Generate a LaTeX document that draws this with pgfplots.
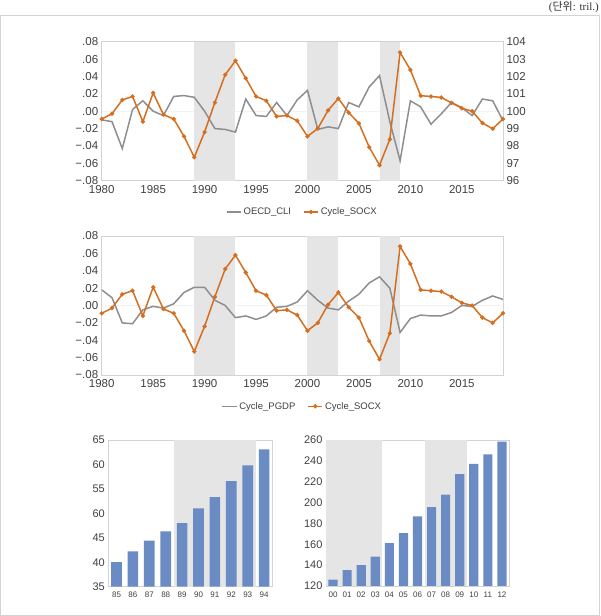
\documentclass[border=0pt]{standalone}
\usepackage{pgfplots}
\pgfplotsset{compat=1.18}
\usepackage{fontspec}
\setmainfont{Liberation Sans}
\newfontfamily\krfont{Noto Sans CJK KR}
\newfontfamily\seriffont{Liberation Serif}

\definecolor{socx}{HTML}{D46F22}
\definecolor{gline}{HTML}{8E8E8E}
\definecolor{band}{HTML}{E5E5E5}
\definecolor{barblue}{HTML}{6A8BC3}
\definecolor{frame}{HTML}{D3D3D3}
\definecolor{tickc}{HTML}{404040}

\pgfplotsset{
  base/.style={scale only axis, anchor=south west,
    axis line style={frame, line width=0.8pt},
    tick style={draw=none},
    ticklabel style={text=tickc},
    scaled y ticks=false,
    /pgf/number format/assume math mode=true,
    /pgf/number format/1000 sep={}},
  cyc/.style={base, xmin=1980, xmax=2019, ymin=-0.08, ymax=0.08,
    width=401.3pt, height=139pt,
    xtick={1980,1985,1990,1995,2000,2005,2010,2015},
    ytick={-0.08,-0.06,-0.04,-0.02,0,0.02,0.04,0.06,0.08},
    yticklabels={−.08,−.06,−.04,−.02,.00,.02,.04,.06,.08},
    ticklabel style={font=\fontsize{11.5}{13}\selectfont},
    xticklabel style={yshift=-1pt},
    extra y ticks={0}, extra y tick labels={},
    extra tick style={grid=major, major grid style={black!5, line width=0.6pt}},
    legend style={at={(0.5,-0.165)}, anchor=north, legend columns=2, draw=none,
      font=\fontsize{9.5}{11}\selectfont, text=tickc,
      /tikz/every even column/.append style={column sep=10pt}},
    legend image code/.code={
      \draw[#1, line width=1.5pt] (0cm,0cm) -- (0.5cm,0cm);
      \draw[#1, line width=1.5pt, mark repeat=2, mark phase=2] plot coordinates {(0cm,0cm)(0.25cm,0cm)(0.5cm,0cm)};}},
  orange/.style={socx, line width=1.5pt, mark=*, mark size=1.3pt},
  grayl/.style={gline, line width=1.5pt},
  shade/.style={fill=band, draw=none, forget plot},
  bars/.style={base, ticklabel style={font=\fontsize{11}{13}\selectfont},
    xticklabel style={font=\fontsize{8}{9}\selectfont, yshift=-2pt}},
}

\begin{document}
\begin{tikzpicture}
\path[use as bounding box] (0,0) rectangle (600pt,616pt);
\draw[frame, line width=1pt] (0.5pt,0.5pt) rectangle (599.5pt,600pt);
\node[anchor=base east, inner sep=0pt, text=black!80, font=\fontsize{11}{13}\selectfont]
  at (599pt,605pt) {\seriffont(\krfont 단위\seriffont: tril.)};

% ---- top chart
\begin{axis}[cyc, at={(101.7pt,435.3pt)}]
\addplot[shade] coordinates {(1989,-0.08)(1989,0.08)(1993,0.08)(1993,-0.08)} -- cycle;
\addplot[shade] coordinates {(2000,-0.08)(2000,0.08)(2003,0.08)(2003,-0.08)} -- cycle;
\addplot[shade] coordinates {(2007,-0.08)(2007,0.08)(2009,0.08)(2009,-0.08)} -- cycle;
\addplot[grayl] coordinates {
(1980,-0.010)(1981,-0.012)(1982,-0.043)(1983,0.002)(1984,0.012)(1985,0.000)
(1986,-0.005)(1987,0.017)(1988,0.018)(1989,0.016)(1990,0.000)(1991,-0.020)
(1992,-0.021)(1993,-0.024)(1994,0.014)(1995,-0.005)(1996,-0.006)(1997,0.010)
(1998,-0.005)(1999,0.013)(2000,0.024)(2001,-0.021)(2002,-0.018)(2003,-0.020)
(2004,0.010)(2005,0.005)(2006,0.028)(2007,0.041)(2008,-0.012)(2009,-0.057)
(2010,0.012)(2011,0.005)(2012,-0.015)(2013,-0.003)(2014,0.010)(2015,0.004)
(2016,-0.005)(2017,0.014)(2018,0.012)(2019,-0.011)};
\addlegendentry{OECD\_CLI}
\addlegendimage{orange}
\addlegendentry{Cycle\_SOCX}
\end{axis}
\begin{axis}[base, at={(101.7pt,435.3pt)}, width=401.3pt, height=139pt,
  xmin=1980, xmax=2019, ymin=96, ymax=104, hide x axis,
  axis y line*=right, ytick={96,97,...,104},
  ticklabel style={font=\fontsize{11.5}{13}\selectfont}]
\addplot[orange] coordinates {
(1980,99.55)(1981,99.85)(1982,100.65)(1983,100.85)(1984,99.40)(1985,101.05)
(1986,99.80)(1987,99.55)(1988,98.55)(1989,97.35)(1990,98.80)(1991,100.50)
(1992,102.10)(1993,102.90)(1994,101.90)(1995,100.85)(1996,100.60)(1997,99.70)
(1998,99.75)(1999,99.45)(2000,98.55)(2001,99.00)(2002,100.05)(2003,100.73)
(2004,99.92)(2005,99.30)(2006,97.93)(2007,96.89)(2008,98.38)(2009,103.38)
(2010,102.38)(2011,100.89)(2012,100.85)(2013,100.79)(2014,100.48)(2015,100.17)
(2016,100.00)(2017,99.32)(2018,98.99)(2019,99.55)};
\end{axis}

% ---- middle chart
\begin{axis}[cyc, at={(101.7pt,241pt)}]
\addplot[shade] coordinates {(1989,-0.08)(1989,0.08)(1993,0.08)(1993,-0.08)} -- cycle;
\addplot[shade] coordinates {(2000,-0.08)(2000,0.08)(2003,0.08)(2003,-0.08)} -- cycle;
\addplot[shade] coordinates {(2007,-0.08)(2007,0.08)(2009,0.08)(2009,-0.08)} -- cycle;
\addplot[grayl] coordinates {
(1980,0.018)(1981,0.009)(1982,-0.020)(1983,-0.021)(1984,-0.005)(1985,-0.001)
(1986,-0.003)(1987,0.002)(1988,0.015)(1989,0.021)(1990,0.021)(1991,0.006)
(1992,0.000)(1993,-0.014)(1994,-0.012)(1995,-0.016)(1996,-0.012)(1997,-0.002)
(1998,-0.001)(1999,0.004)(2000,0.017)(2001,0.006)(2002,-0.003)(2003,-0.005)
(2004,0.005)(2005,0.013)(2006,0.026)(2007,0.033)(2008,0.020)(2009,-0.031)
(2010,-0.015)(2011,-0.011)(2012,-0.012)(2013,-0.012)(2014,-0.008)(2015,0.000)
(2016,-0.001)(2017,0.006)(2018,0.011)(2019,0.007)};
\addlegendentry{Cycle\_PGDP}
\addplot[orange] coordinates {
(1980,-0.009)(1981,-0.003)(1982,0.013)(1983,0.017)(1984,-0.012)(1985,0.021)
(1986,-0.004)(1987,-0.009)(1988,-0.029)(1989,-0.053)(1990,-0.024)(1991,0.010)
(1992,0.042)(1993,0.058)(1994,0.038)(1995,0.017)(1996,0.012)(1997,-0.006)
(1998,-0.005)(1999,-0.011)(2000,-0.029)(2001,-0.020)(2002,0.001)(2003,0.015)
(2004,-0.002)(2005,-0.014)(2006,-0.041)(2007,-0.062)(2008,-0.032)(2009,0.068)
(2010,0.048)(2011,0.018)(2012,0.017)(2013,0.016)(2014,0.010)(2015,0.003)
(2016,0.000)(2017,-0.014)(2018,-0.020)(2019,-0.009)};
\addlegendentry{Cycle\_SOCX}
\end{axis}

% ---- bottom left bars
\begin{axis}[bars, at={(108.3pt,29.3pt)}, width=164pt, height=146.7pt,
  xmin=-0.5, xmax=9.5, ymin=35, ymax=65, ytick={35,40,...,65},
  yticklabels={35,40,45,60,55,60,65},
  xtick={0,...,9}, xticklabels={85,86,87,88,89,90,91,92,93,94}]
\addplot[shade] coordinates {(3.5,35)(3.5,65)(8.5,65)(8.5,35)} -- cycle;
\addplot[ybar, bar width=0.65, fill=barblue, draw=none] coordinates {
(0,40.0)(1,42.2)(2,44.4)(3,46.3)(4,48.0)(5,51.0)(6,53.3)(7,56.6)(8,59.8)(9,63.1)};
\end{axis}

% ---- bottom right bars
\begin{axis}[bars, at={(326pt,30pt)}, width=183pt, height=146pt,
  xmin=-0.5, xmax=12.5, ymin=120, ymax=260, ytick={120,140,...,260},
  xtick={0,...,12}, xticklabels={00,01,02,03,04,05,06,07,08,09,10,11,12}]
\addplot[shade] coordinates {(-0.5,120)(-0.5,260)(3.5,260)(3.5,120)} -- cycle;
\addplot[shade] coordinates {(6.5,120)(6.5,260)(9.5,260)(9.5,120)} -- cycle;
\addplot[ybar, bar width=0.65, fill=barblue, draw=none] coordinates {
(0,126.1)(1,135.3)(2,140.1)(3,148.1)(4,161.1)(5,170.7)(6,186.7)(7,195.6)
(8,207.7)(9,227.2)(10,237.1)(11,246.3)(12,258.4)};
\end{axis}
\end{tikzpicture}
\end{document}
